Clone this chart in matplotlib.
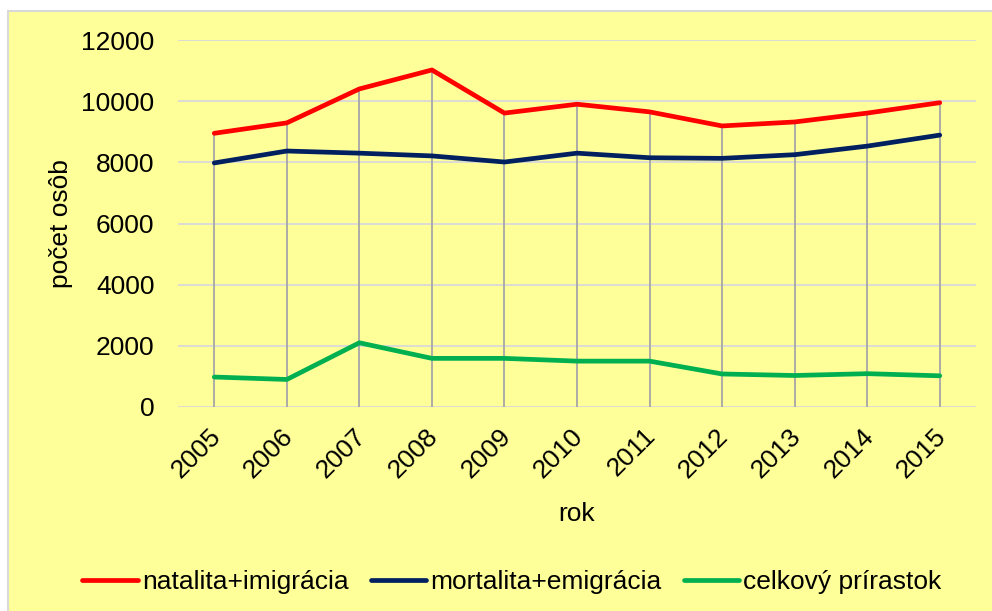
import matplotlib
matplotlib.use("Agg")
import matplotlib.pyplot as plt
import matplotlib.transforms as mtransforms
import numpy as np

years = ["2005", "2006", "2007", "2008", "2009", "2010", "2011", "2012", "2013", "2014", "2015"]
natalita = [8950, 9290, 10400, 11020, 9610, 9900, 9650, 9190, 9320, 9610, 9950]
mortalita = [7980, 8370, 8300, 8210, 8010, 8300, 8150, 8130, 8250, 8530, 8890]
prirastok = [980, 900, 2100, 1590, 1590, 1500, 1500, 1080, 1030, 1090, 1020]
labels = ["natalita+imigrácia", "mortalita+emigrácia", "celkový prírastok"]
colors = ["#FF0000", "#002060", "#00B050"]

plt.rcParams['font.family'] = ['Liberation Sans', 'DejaVu Sans']

bg = "#FFFF99"
W, H = 992, 611
fs = 19
fig = plt.figure(figsize=(W / 100, H / 100), dpi=100, facecolor="white")
fig.patches.append(plt.Rectangle((8 / W, -0.01), 1.02, 1 - 11 / H + 0.01, transform=fig.transFigure,
                                 facecolor=bg, edgecolor="#D9D9D9", lw=1.5, zorder=-10))

ax = fig.add_axes([178 / W, 1 - 407 / H, (976 - 178) / W, (407 - 40) / H])
ax.set_facecolor(bg)
ax.patch.set_alpha(0)

x = np.arange(len(years))
tops = np.max([natalita, mortalita, prirastok], axis=0)
ax.vlines(x, 0, tops, color="#A6A6A6", lw=1.3, zorder=2)

for vals, lab, c in zip([natalita, mortalita, prirastok], labels, colors):
    ax.plot(x, vals, color=c, lw=3.4, label=lab, zorder=3, solid_capstyle='round')

ax.set_xlim(-0.5, len(years) - 0.5)
ax.set_ylim(0, 12000)
ax.set_yticks(np.arange(0, 12001, 2000))
ax.yaxis.grid(True, color="#D9D9D9", lw=1.3, zorder=1)
ax.set_axisbelow(True)
for s in ax.spines.values():
    s.set_visible(False)
ax.tick_params(axis='both', length=0, labelsize=fs)
ax.tick_params(axis='y', pad=17)
ax.set_xticks(x)
ax.set_xticklabels(years, rotation=45, ha='right', va='top', rotation_mode='anchor')
ax.tick_params(axis='x', pad=12)
offset = mtransforms.ScaledTranslation(-6 / 100, 0, fig.dpi_scale_trans)
for lbl in ax.get_xticklabels():
    lbl.set_transform(lbl.get_transform() + offset)
ax.set_xlabel("rok", fontsize=fs, labelpad=14)
ax.set_ylabel("počet osôb", fontsize=fs, labelpad=6)

handles, labs = ax.get_legend_handles_labels()
fig.legend(handles, labs, loc='center', bbox_to_anchor=(512 / W, 1 - 582 / H), ncol=3,
           frameon=False, fontsize=fs, handlelength=2.1, handletextpad=0.15,
           columnspacing=0.85, borderaxespad=0)

fig.savefig("out.png", dpi=100, facecolor="white")
